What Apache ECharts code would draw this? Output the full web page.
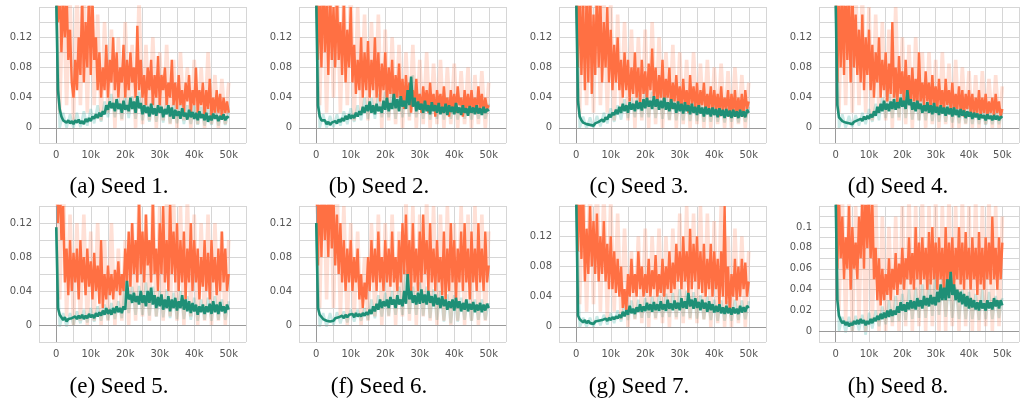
<!DOCTYPE html>
<html>
<head>
<meta charset="utf-8">
<script src="https://cdn.jsdelivr.net/npm/echarts@6/dist/echarts.min.js"></script>
<style>
html, body { margin: 0; padding: 0; background: #fff; }
#chart { width: 1022px; height: 402px; }
</style>
</head>
<body>
<div id="chart"></div>
<script>
// training steps of the smoothed curves and of the faded raw curves
var steps = [0,500,1000,1500,2000,2500,3000,3500,4000,4500,
	5000,5500,6000,6500,7000,7500,8000,8500,9000,9500,
	10000,10500,11000,11500,12000,12500,13000,13500,14000,14500,
	15000,15500,16000,16500,17000,17500,18000,18500,19000,19500,
	20000,20500,21000,21500,22000,22500,23000,23500,24000,24500,
	25000,25500,26000,26500,27000,27500,28000,28500,29000,29500,
	30000,30500,31000,31500,32000,32500,33000,33500,34000,34500,
	35000,35500,36000,36500,37000,37500,38000,38500,39000,39500,
	40000,40500,41000,41500,42000,42500,43000,43500,44000,44500,
	45000,45500,46000,46500,47000,47500,48000,48500,49000,49500,
	50000];
var rawSteps = [0,1000,2000,3000,4000,5000,6000,7000,8000,9000,
	10000,11000,12000,13000,14000,15000,16000,17000,18000,19000,
	20000,21000,22000,23000,24000,25000,26000,27000,28000,29000,
	30000,31000,32000,33000,34000,35000,36000,37000,38000,39000,
	40000,41000,42000,43000,44000,45000,46000,47000,48000,49000,
	50000];

var captions = ['(a) Seed 1.', '(b) Seed 2.', '(c) Seed 3.', '(d) Seed 4.',
	'(e) Seed 5.', '(f) Seed 6.', '(g) Seed 7.', '(h) Seed 8.'];
var yMins = [-0.02, -0.02, -0.02, -0.02, -0.02, -0.02, -0.02, -0.01];
var yMaxs = [0.16, 0.16, 0.16, 0.16, 0.14, 0.14, 0.16, 0.12];
var yIntervals = [0.02, 0.02, 0.02, 0.02, 0.02, 0.02, 0.02, 0.01];
var yLabelSteps = [0.04, 0.04, 0.04, 0.04, 0.04, 0.04, 0.04, 0.02];

// seed 1
var seed1Orange = [0.20,0.14,0.19,0.10,0.17,0.12,0.18,0.09,0.13,0.06,
	0.04,0.09,0.05,0.12,0.07,0.18,0.06,0.14,0.08,0.19,
	0.07,0.17,0.09,0.12,0.05,0.10,0.04,0.08,0.05,0.11,
	0.04,0.09,0.06,0.12,0.05,0.10,0.04,0.08,0.06,0.11,
	0.04,0.09,0.05,0.10,0.06,0.08,0.04,0.135,0.05,0.09,
	0.04,0.07,0.03,0.08,0.05,0.09,0.03,0.07,0.04,0.095,
	0.03,0.07,0.05,0.08,0.03,0.06,0.04,0.09,0.03,0.06,
	0.025,0.07,0.03,0.05,0.02,0.06,0.035,0.07,0.02,0.05,
	0.03,0.08,0.02,0.05,0.03,0.06,0.015,0.05,0.025,0.065,
	0.015,0.04,0.02,0.05,0.02,0.045,0.015,0.04,0.02,0.035,
	0.02];
var seed1Green = [0.17,0.05,0.025,0.015,0.01,0.012,0.007,0.01,0.006,0.009,
	0.005,0.01,0.007,0.011,0.006,0.009,0.005,0.012,0.008,0.013,
	0.009,0.015,0.012,0.018,0.013,0.02,0.015,0.022,0.018,0.03,
	0.024,0.035,0.026,0.033,0.022,0.038,0.025,0.032,0.02,0.036,
	0.024,0.03,0.022,0.04,0.025,0.035,0.02,0.042,0.026,0.033,
	0.018,0.03,0.02,0.028,0.015,0.032,0.018,0.026,0.016,0.03,
	0.02,0.028,0.014,0.025,0.018,0.03,0.015,0.027,0.012,0.024,
	0.016,0.022,0.012,0.026,0.015,0.02,0.011,0.024,0.014,0.021,
	0.012,0.02,0.01,0.022,0.013,0.018,0.01,0.02,0.008,0.016,
	0.01,0.019,0.012,0.017,0.009,0.016,0.011,0.018,0.01,0.015,
	0.013];
var seed1OrangeRaw = [0.2,0.02,0.19,0.03,0.17,0.01,0.18,0.03,0.2,0.02,
	0.19,0.03,0.15,0.01,0.14,0.02,0.13,0.0,0.12,0.01,
	0.14,0.02,0.11,0.0,0.17,0.005,0.11,0.01,0.12,0.0,
	0.1,0.01,0.11,0.005,0.09,0.0,0.1,0.01,0.08,0.0,
	0.09,0.005,0.08,0.0,0.1,0.005,0.07,0.0,0.065,0.005,
	0.06];
var seed1GreenRaw = [0.17,0.0,0.02,0.0,0.018,0.0,0.02,0.001,0.022,0.003,
	0.025,0.006,0.03,0.008,0.035,0.014,0.045,0.014,0.04,0.012,
	0.045,0.013,0.042,0.012,0.048,0.01,0.038,0.008,0.04,0.008,
	0.036,0.007,0.038,0.006,0.034,0.006,0.032,0.005,0.03,0.005,
	0.03,0.004,0.028,0.003,0.026,0.004,0.028,0.003,0.025,0.004,
	0.022];

// seed 2
var seed2Orange = [0.2,0.09,0.18,0.08,0.2,0.1,0.17,0.07,0.19,0.09,
	0.16,0.08,0.18,0.09,0.14,0.07,0.17,0.06,0.13,0.08,
	0.16,0.06,0.11,0.045,0.09,0.05,0.12,0.04,0.1,0.05,
	0.115,0.04,0.09,0.05,0.12,0.04,0.1,0.035,0.085,0.05,
	0.1,0.03,0.08,0.045,0.09,0.03,0.07,0.04,0.085,0.03,
	0.065,0.025,0.07,0.035,0.06,0.02,0.05,0.03,0.065,0.025,
	0.045,0.02,0.055,0.03,0.05,0.02,0.06,0.025,0.045,0.015,
	0.05,0.03,0.045,0.02,0.055,0.025,0.04,0.015,0.05,0.025,
	0.045,0.02,0.055,0.03,0.04,0.015,0.05,0.025,0.045,0.02,
	0.05,0.025,0.04,0.02,0.055,0.025,0.045,0.02,0.04,0.025,
	0.03];
var seed2Green = [0.17,0.03,0.015,0.01,0.008,0.01,0.005,0.008,0.004,0.007,
	0.005,0.009,0.006,0.011,0.008,0.013,0.009,0.016,0.011,0.018,
	0.012,0.017,0.013,0.02,0.015,0.022,0.017,0.028,0.02,0.03,
	0.022,0.035,0.02,0.03,0.018,0.032,0.022,0.028,0.02,0.036,
	0.024,0.04,0.022,0.033,0.025,0.045,0.026,0.038,0.022,0.042,
	0.028,0.036,0.025,0.05,0.03,0.068,0.028,0.04,0.022,0.035,
	0.024,0.032,0.02,0.036,0.022,0.03,0.018,0.034,0.022,0.03,
	0.02,0.033,0.018,0.028,0.02,0.032,0.017,0.03,0.021,0.028,
	0.018,0.033,0.02,0.027,0.017,0.03,0.02,0.026,0.016,0.029,
	0.02,0.027,0.018,0.03,0.019,0.026,0.017,0.028,0.02,0.025,
	0.022];
var seed2OrangeRaw = [0.2,0.03,0.2,0.02,0.19,0.04,0.2,0.02,0.18,0.03,
	0.19,0.01,0.16,0.02,0.15,0.01,0.14,0.02,0.15,0.0,
	0.13,0.01,0.12,0.005,0.11,0.0,0.1,0.01,0.11,0.0,
	0.09,0.005,0.1,0.0,0.085,0.005,0.09,0.0,0.08,0.005,
	0.085,0.0,0.075,0.005,0.08,0.0,0.07,0.005,0.075,0.0,
	0.06];
var seed2GreenRaw = [0.17,0.0,0.018,0.0,0.016,0.001,0.018,0.003,0.022,0.005,
	0.026,0.008,0.03,0.01,0.04,0.012,0.04,0.012,0.045,0.014,
	0.048,0.014,0.05,0.012,0.055,0.014,0.06,0.015,0.07,0.014,
	0.045,0.012,0.045,0.011,0.044,0.012,0.042,0.011,0.04,0.012,
	0.042,0.011,0.04,0.012,0.038,0.011,0.04,0.012,0.036,0.012,
	0.032];

// seed 3
var seed3Orange = [0.2,0.08,0.19,0.07,0.17,0.05,0.18,0.06,0.2,0.045,
	0.15,0.07,0.19,0.08,0.17,0.06,0.14,0.08,0.16,0.06,
	0.13,0.05,0.11,0.06,0.12,0.05,0.09,0.04,0.1,0.05,
	0.09,0.035,0.08,0.045,0.1,0.04,0.08,0.03,0.09,0.045,
	0.075,0.035,0.085,0.05,0.105,0.04,0.08,0.03,0.07,0.04,
	0.09,0.03,0.065,0.04,0.08,0.025,0.06,0.035,0.07,0.03,
	0.055,0.025,0.065,0.03,0.05,0.02,0.07,0.03,0.055,0.025,
	0.06,0.02,0.05,0.03,0.06,0.02,0.045,0.025,0.055,0.02,
	0.05,0.025,0.045,0.015,0.055,0.02,0.04,0.025,0.05,0.015,
	0.045,0.02,0.05,0.015,0.04,0.02,0.045,0.015,0.05,0.025,
	0.035];
var seed3Green = [0.17,0.035,0.015,0.01,0.007,0.009,0.005,0.007,0.004,0.006,
	0.003,0.006,0.004,0.008,0.006,0.011,0.008,0.014,0.011,0.018,
	0.014,0.02,0.017,0.024,0.018,0.028,0.02,0.032,0.022,0.03,
	0.02,0.034,0.024,0.032,0.022,0.036,0.025,0.034,0.023,0.038,
	0.026,0.04,0.028,0.036,0.025,0.042,0.028,0.038,0.024,0.036,
	0.026,0.04,0.024,0.034,0.022,0.038,0.025,0.033,0.02,0.035,
	0.022,0.032,0.019,0.034,0.022,0.03,0.018,0.032,0.02,0.028,
	0.017,0.03,0.019,0.027,0.015,0.028,0.018,0.026,0.015,0.027,
	0.017,0.025,0.014,0.026,0.016,0.024,0.013,0.025,0.015,0.023,
	0.013,0.024,0.015,0.022,0.013,0.024,0.015,0.022,0.014,0.024,
	0.02];
var seed3OrangeRaw = [0.2,0.02,0.2,0.03,0.19,0.02,0.2,0.03,0.18,0.02,
	0.17,0.01,0.15,0.02,0.14,0.01,0.13,0.0,0.12,0.01,
	0.13,0.0,0.14,0.005,0.12,0.0,0.1,0.01,0.11,0.0,
	0.1,0.005,0.09,0.0,0.1,0.005,0.085,0.0,0.09,0.0,
	0.08,0.005,0.085,0.0,0.075,0.0,0.08,0.005,0.07,0.0,
	0.06];
var seed3GreenRaw = [0.17,0.0,0.015,-0.001,0.014,0.0,0.016,0.002,0.02,0.006,
	0.026,0.008,0.03,0.011,0.038,0.013,0.04,0.014,0.045,0.014,
	0.05,0.014,0.048,0.013,0.046,0.012,0.045,0.011,0.044,0.01,
	0.042,0.01,0.04,0.009,0.04,0.009,0.036,0.008,0.035,0.008,
	0.034,0.008,0.032,0.007,0.033,0.008,0.03,0.007,0.03,0.008,
	0.028];

// seed 4
var seed4Orange = [0.2,0.06,0.19,0.08,0.18,0.07,0.2,0.09,0.17,0.06,
	0.19,0.08,0.15,0.07,0.13,0.06,0.15,0.05,0.12,0.07,
	0.13,0.05,0.11,0.04,0.1,0.06,0.12,0.04,0.09,0.05,
	0.1,0.035,0.085,0.045,0.14,0.04,0.08,0.03,0.095,0.045,
	0.075,0.03,0.09,0.04,0.07,0.03,0.08,0.035,0.065,0.025,
	0.1,0.035,0.06,0.03,0.075,0.035,0.06,0.025,0.07,0.03,
	0.055,0.025,0.065,0.03,0.05,0.02,0.065,0.03,0.05,0.025,
	0.06,0.02,0.045,0.025,0.055,0.02,0.05,0.015,0.045,0.025,
	0.05,0.02,0.045,0.015,0.04,0.02,0.05,0.015,0.04,0.02,
	0.045,0.015,0.035,0.02,0.04,0.015,0.045,0.02,0.035,0.015,
	0.025];
var seed4Green = [0.17,0.03,0.014,0.012,0.009,0.011,0.007,0.009,0.006,0.008,
	0.005,0.008,0.007,0.01,0.008,0.012,0.009,0.015,0.011,0.016,
	0.012,0.018,0.014,0.022,0.016,0.028,0.02,0.032,0.022,0.036,
	0.024,0.032,0.022,0.035,0.025,0.038,0.024,0.034,0.026,0.04,
	0.028,0.036,0.025,0.05,0.03,0.038,0.024,0.034,0.022,0.036,
	0.025,0.032,0.02,0.03,0.022,0.034,0.02,0.03,0.018,0.033,
	0.02,0.028,0.017,0.03,0.019,0.027,0.016,0.028,0.018,0.026,
	0.015,0.027,0.017,0.024,0.014,0.025,0.016,0.023,0.013,0.022,
	0.015,0.021,0.012,0.02,0.014,0.019,0.011,0.018,0.013,0.017,
	0.01,0.018,0.012,0.016,0.01,0.017,0.011,0.016,0.01,0.015,
	0.013];
var seed4OrangeRaw = [0.2,0.02,0.2,0.03,0.2,0.02,0.19,0.03,0.18,0.02,
	0.16,0.01,0.15,0.02,0.14,0.01,0.13,0.0,0.16,0.01,
	0.12,0.005,0.11,0.0,0.12,0.01,0.1,0.0,0.1,0.005,
	0.09,0.0,0.1,0.005,0.085,0.0,0.09,0.0,0.08,0.005,
	0.075,0.0,0.07,0.0,0.075,0.005,0.065,0.0,0.07,0.0,
	0.055];
var seed4GreenRaw = [0.17,0.0,0.018,0.0,0.016,0.001,0.017,0.003,0.02,0.005,
	0.025,0.008,0.032,0.01,0.04,0.013,0.045,0.013,0.048,0.014,
	0.055,0.013,0.048,0.011,0.044,0.01,0.04,0.01,0.042,0.009,
	0.038,0.008,0.036,0.008,0.035,0.007,0.033,0.006,0.03,0.006,
	0.03,0.005,0.028,0.005,0.026,0.004,0.025,0.005,0.024,0.005,
	0.022];

// seed 5
var seed5Orange = [0.2,0.12,0.18,0.1,0.14,0.05,0.09,0.035,0.1,0.04,
	0.085,0.05,0.09,0.03,0.1,0.05,0.08,0.035,0.09,0.045,
	0.075,0.03,0.085,0.04,0.07,0.025,0.1,0.02,0.06,0.03,
	0.07,0.035,0.06,0.03,0.065,0.04,0.075,0.035,0.06,0.04,
	0.09,0.05,0.11,0.045,0.12,0.06,0.1,0.05,0.15,0.06,
	0.11,0.05,0.13,0.07,0.1,0.05,0.15,0.06,0.09,0.04,
	0.12,0.06,0.14,0.05,0.1,0.04,0.15,0.06,0.11,0.05,
	0.12,0.04,0.1,0.05,0.11,0.03,0.09,0.05,0.12,0.04,
	0.1,0.05,0.09,0.03,0.08,0.045,0.1,0.04,0.085,0.03,
	0.1,0.05,0.08,0.035,0.09,0.04,0.11,0.05,0.09,0.04,
	0.06];
var seed5Green = [0.115,0.02,0.012,0.01,0.006,0.009,0.004,0.007,0.005,0.008,
	0.006,0.01,0.007,0.011,0.008,0.012,0.007,0.011,0.008,0.013,
	0.009,0.012,0.008,0.014,0.01,0.015,0.011,0.017,0.012,0.02,
	0.013,0.018,0.012,0.02,0.014,0.022,0.015,0.02,0.014,0.022,
	0.018,0.052,0.03,0.036,0.026,0.038,0.027,0.034,0.024,0.04,
	0.026,0.035,0.022,0.04,0.026,0.044,0.024,0.035,0.02,0.033,
	0.022,0.036,0.018,0.03,0.02,0.034,0.016,0.03,0.02,0.032,
	0.017,0.028,0.02,0.035,0.018,0.03,0.016,0.028,0.014,0.026,
	0.016,0.024,0.012,0.022,0.015,0.024,0.013,0.022,0.015,0.025,
	0.013,0.028,0.015,0.024,0.013,0.027,0.016,0.022,0.014,0.024,
	0.018];
var seed5OrangeRaw = [0.2,0.03,0.18,0.01,0.13,0.0,0.12,0.005,0.13,0.0,
	0.11,0.005,0.12,0.0,0.1,0.005,0.12,0.0,0.09,0.005,
	0.1,0.0,0.12,0.005,0.15,0.01,0.13,0.005,0.15,0.01,
	0.14,0.005,0.15,0.01,0.15,0.005,0.14,0.0,0.15,0.01,
	0.13,0.0,0.12,0.005,0.13,0.0,0.12,0.005,0.11,0.0,
	0.1];
var seed5GreenRaw = [0.115,-0.002,0.014,-0.002,0.014,0.0,0.016,0.002,0.018,0.003,
	0.02,0.004,0.022,0.005,0.024,0.006,0.026,0.007,0.028,0.008,
	0.05,0.014,0.045,0.012,0.046,0.012,0.05,0.011,0.045,0.01,
	0.04,0.009,0.042,0.008,0.038,0.007,0.04,0.007,0.034,0.006,
	0.032,0.005,0.03,0.006,0.032,0.005,0.034,0.006,0.03,0.006,
	0.028];

// seed 6
var seed6Orange = [0.2,0.07,0.18,0.08,0.17,0.1,0.16,0.08,0.18,0.09,
	0.15,0.07,0.13,0.06,0.12,0.05,0.1,0.04,0.09,0.05,
	0.1,0.04,0.08,0.05,0.09,0.03,0.06,0.02,0.05,0.03,
	0.08,0.04,0.1,0.05,0.09,0.04,0.11,0.05,0.08,0.04,
	0.1,0.05,0.09,0.045,0.11,0.05,0.08,0.04,0.1,0.05,
	0.12,0.06,0.13,0.05,0.1,0.04,0.12,0.05,0.09,0.04,
	0.11,0.05,0.13,0.06,0.1,0.04,0.12,0.05,0.09,0.04,
	0.1,0.05,0.08,0.035,0.11,0.03,0.09,0.04,0.12,0.05,
	0.1,0.03,0.09,0.05,0.11,0.04,0.12,0.05,0.09,0.03,
	0.11,0.05,0.09,0.04,0.12,0.05,0.09,0.04,0.11,0.05,
	0.07];
var seed6Green = [0.12,0.02,0.012,0.01,0.007,0.009,0.005,0.007,0.004,0.006,
	0.005,0.008,0.006,0.009,0.007,0.011,0.008,0.012,0.009,0.012,
	0.01,0.013,0.009,0.014,0.01,0.013,0.01,0.014,0.011,0.015,
	0.012,0.018,0.013,0.022,0.016,0.025,0.018,0.03,0.02,0.028,
	0.022,0.03,0.02,0.033,0.024,0.03,0.02,0.035,0.024,0.03,
	0.022,0.04,0.025,0.06,0.03,0.04,0.026,0.035,0.024,0.038,
	0.025,0.042,0.026,0.036,0.024,0.04,0.026,0.034,0.022,0.036,
	0.024,0.032,0.02,0.034,0.022,0.03,0.018,0.028,0.02,0.03,
	0.017,0.032,0.02,0.028,0.016,0.026,0.018,0.03,0.016,0.025,
	0.018,0.027,0.015,0.024,0.017,0.026,0.015,0.024,0.017,0.025,
	0.02];
var seed6OrangeRaw = [0.2,0.02,0.2,0.03,0.2,0.02,0.17,0.01,0.14,0.0,
	0.12,0.01,0.11,0.0,0.08,0.005,0.12,0.01,0.13,0.0,
	0.12,0.01,0.13,0.0,0.11,0.01,0.15,0.005,0.14,0.0,
	0.13,0.01,0.15,0.005,0.14,0.0,0.13,0.005,0.14,0.0,
	0.12,0.005,0.14,0.0,0.13,0.005,0.14,0.0,0.13,0.005,
	0.11];
var seed6GreenRaw = [0.12,-0.002,0.014,-0.002,0.014,0.0,0.015,0.002,0.016,0.003,
	0.018,0.004,0.018,0.005,0.02,0.006,0.03,0.008,0.035,0.01,
	0.038,0.011,0.04,0.012,0.045,0.012,0.065,0.013,0.045,0.012,
	0.05,0.011,0.045,0.008,0.042,0.006,0.04,0.004,0.036,0.002,
	0.035,0.004,0.032,0.006,0.03,0.005,0.03,0.006,0.03,0.006,
	0.026];

// seed 7
var seed7Orange = [0.2,0.1,0.2,0.09,0.18,0.06,0.13,0.07,0.16,0.08,
	0.14,0.07,0.15,0.06,0.12,0.07,0.14,0.06,0.11,0.05,
	0.12,0.05,0.1,0.045,0.09,0.04,0.08,0.025,0.05,0.02,
	0.07,0.04,0.09,0.045,0.07,0.04,0.1,0.05,0.08,0.04,
	0.07,0.045,0.09,0.04,0.075,0.05,0.095,0.04,0.07,0.045,
	0.09,0.04,0.08,0.05,0.1,0.045,0.085,0.05,0.11,0.06,
	0.1,0.05,0.12,0.06,0.1,0.045,0.13,0.05,0.11,0.06,
	0.12,0.05,0.1,0.045,0.11,0.04,0.09,0.05,0.11,0.04,
	0.1,0.05,0.09,0.03,0.1,0.04,0.16,0.03,0.08,0.02,
	0.07,0.04,0.09,0.035,0.08,0.04,0.09,0.05,0.085,0.04,
	0.06];
var seed7Green = [0.17,0.015,0.01,0.008,0.006,0.009,0.005,0.008,0.005,0.007,
	0.004,0.007,0.005,0.008,0.006,0.009,0.007,0.011,0.008,0.012,
	0.009,0.013,0.01,0.014,0.011,0.016,0.012,0.02,0.014,0.022,
	0.016,0.028,0.018,0.024,0.017,0.026,0.02,0.03,0.02,0.027,
	0.021,0.032,0.022,0.03,0.02,0.033,0.022,0.03,0.021,0.034,
	0.023,0.03,0.021,0.036,0.024,0.031,0.022,0.035,0.024,0.032,
	0.022,0.038,0.025,0.034,0.024,0.045,0.027,0.036,0.024,0.038,
	0.025,0.033,0.022,0.036,0.024,0.032,0.02,0.034,0.022,0.03,
	0.019,0.028,0.02,0.03,0.018,0.026,0.017,0.028,0.018,0.025,
	0.016,0.026,0.018,0.024,0.017,0.028,0.019,0.026,0.02,0.028,
	0.025];
var seed7OrangeRaw = [0.2,0.03,0.2,0.02,0.19,0.03,0.2,0.02,0.18,0.01,
	0.17,0.02,0.15,0.01,0.13,0.0,0.1,0.01,0.12,0.005,
	0.13,0.0,0.12,0.01,0.13,0.005,0.12,0.0,0.13,0.01,
	0.15,0.005,0.16,0.01,0.15,0.005,0.16,0.01,0.15,0.0,
	0.14,0.005,0.16,0.0,0.12,0.0,0.13,0.005,0.12,0.0,
	0.1];
var seed7GreenRaw = [0.17,-0.001,0.012,0.0,0.012,0.0,0.014,0.002,0.016,0.003,
	0.018,0.005,0.022,0.007,0.032,0.009,0.035,0.011,0.036,0.012,
	0.038,0.012,0.04,0.012,0.042,0.013,0.044,0.013,0.045,0.013,
	0.05,0.014,0.048,0.012,0.046,0.011,0.042,0.01,0.04,0.009,
	0.036,0.008,0.035,0.008,0.034,0.008,0.036,0.009,0.035,0.01,
	0.034];

// seed 8
var seed8Orange = [0.2,0.06,0.13,0.07,0.11,0.05,0.09,0.06,0.12,0.04,
	0.1,0.06,0.085,0.05,0.11,0.07,0.13,0.06,0.14,0.08,
	0.13,0.07,0.125,0.05,0.08,0.03,0.07,0.025,0.06,0.03,
	0.055,0.035,0.07,0.03,0.06,0.04,0.075,0.035,0.065,0.045,
	0.08,0.04,0.07,0.05,0.09,0.045,0.075,0.04,0.1,0.05,
	0.085,0.045,0.09,0.05,0.08,0.04,0.095,0.045,0.1,0.05,
	0.085,0.04,0.09,0.05,0.08,0.035,0.1,0.045,0.085,0.05,
	0.09,0.04,0.08,0.05,0.1,0.045,0.085,0.04,0.095,0.05,
	0.08,0.04,0.09,0.05,0.08,0.035,0.095,0.045,0.08,0.04,
	0.09,0.05,0.085,0.045,0.11,0.05,0.08,0.04,0.09,0.05,
	0.085];
var seed8Green = [0.13,0.03,0.015,0.011,0.008,0.01,0.006,0.009,0.005,0.008,
	0.006,0.01,0.007,0.011,0.007,0.012,0.008,0.011,0.006,0.01,
	0.007,0.012,0.008,0.013,0.01,0.015,0.011,0.017,0.012,0.018,
	0.013,0.02,0.014,0.021,0.015,0.02,0.016,0.024,0.018,0.028,
	0.02,0.026,0.019,0.028,0.021,0.03,0.022,0.029,0.021,0.032,
	0.024,0.03,0.022,0.034,0.025,0.032,0.024,0.035,0.026,0.033,
	0.025,0.038,0.028,0.045,0.03,0.042,0.03,0.05,0.032,0.057,
	0.035,0.045,0.03,0.04,0.028,0.038,0.026,0.036,0.024,0.034,
	0.022,0.032,0.023,0.03,0.021,0.028,0.02,0.03,0.022,0.027,
	0.02,0.03,0.022,0.028,0.021,0.032,0.024,0.03,0.022,0.03,
	0.025];
var seed8OrangeRaw = [0.2,0.02,0.13,0.01,0.13,0.0,0.12,0.01,0.13,0.0,
	0.13,0.01,0.13,0.0,0.11,0.0,0.1,0.005,0.11,0.0,
	0.12,0.005,0.13,0.0,0.12,0.005,0.13,0.0,0.12,0.005,
	0.13,0.0,0.12,0.0,0.13,0.005,0.12,0.0,0.13,0.005,
	0.12,0.0,0.13,0.0,0.12,0.005,0.13,0.0,0.12,0.005,
	0.11];
var seed8GreenRaw = [0.13,0.0,0.014,-0.001,0.014,0.0,0.015,0.001,0.016,-0.003,
	0.018,0.003,0.02,0.005,0.024,0.007,0.03,0.009,0.034,0.01,
	0.036,0.011,0.04,0.012,0.042,0.013,0.045,0.013,0.05,0.015,
	0.06,0.016,0.05,0.014,0.046,0.013,0.042,0.012,0.04,0.012,
	0.038,0.012,0.036,0.011,0.04,0.012,0.038,0.012,0.034,0.013,
	0.032];

var orangeSets = [seed1Orange, seed2Orange, seed3Orange, seed4Orange, seed5Orange, seed6Orange, seed7Orange, seed8Orange];
var greenSets = [seed1Green, seed2Green, seed3Green, seed4Green, seed5Green, seed6Green, seed7Green, seed8Green];
var orangeRawSets = [seed1OrangeRaw, seed2OrangeRaw, seed3OrangeRaw, seed4OrangeRaw, seed5OrangeRaw, seed6OrangeRaw, seed7OrangeRaw, seed8OrangeRaw];
var greenRawSets = [seed1GreenRaw, seed2GreenRaw, seed3GreenRaw, seed4GreenRaw, seed5GreenRaw, seed6GreenRaw, seed7GreenRaw, seed8GreenRaw];

var ORANGE = '#ff7043';
var GREEN = '#1f8f76';
var GRID_COLOR = '#d6d6d6';
var TEXT_COLOR = '#555';

function pairs(xs, ys) {
	return ys.map(function(v, k) { return [xs[k], v]; });
}

var grids = [], xAxes = [], yAxes = [], series = [], titles = [];

for (var i = 0; i < 8; i++) {
	var col = i % 4, row = Math.floor(i / 4);
	grids.push({
		left: 39 + 260 * col,
		top: row === 0 ? 7 : 206,
		width: 207,
		height: 136
	});
	xAxes.push({
		gridIndex: i,
		type: 'value',
		min: -5000,
		max: 55000,
		interval: 5000,
		axisLine: { show: false },
		axisTick: { show: true, length: 4, lineStyle: { color: GRID_COLOR } },
		splitLine: { show: true, lineStyle: { color: GRID_COLOR, width: 1 } },
		axisLabel: {
			color: TEXT_COLOR,
			fontFamily: 'DejaVu Sans',
			fontSize: 10,
			margin: 7,
			formatter: function(v) {
				if (v < 0 || v > 50000 || v % 10000 !== 0) return '';
				return v === 0 ? '0' : (v / 1000) + 'k';
			}
		}
	});
	(function(idx) {
		yAxes.push({
			gridIndex: idx,
			type: 'value',
			min: yMins[idx],
			max: yMaxs[idx],
			interval: yIntervals[idx],
			axisLine: { show: false },
			axisTick: { show: true, length: 4, lineStyle: { color: GRID_COLOR } },
			splitLine: { show: true, lineStyle: { color: GRID_COLOR, width: 1 } },
			axisLabel: {
				color: TEXT_COLOR,
				fontFamily: 'DejaVu Sans',
				fontSize: 10,
				margin: 7,
				formatter: function(v) {
					var k = v / yLabelSteps[idx];
					if (v < -1e-9) return '';
					if (Math.abs(v - yMaxs[idx]) < 1e-9) return '';
					if (Math.abs(k - Math.round(k)) > 1e-6) return '';
					return String(Math.round(v * 100) / 100);
				}
			}
		});
	})(i);

	// faded raw curves (green under orange)
	series.push({
		type: 'line',
		xAxisIndex: i, yAxisIndex: i,
		data: pairs(rawSteps, greenRawSets[i]),
		showSymbol: false, symbol: 'none', silent: true,
		lineStyle: { color: '#4db6ac', width: 2.6, opacity: 0.3 },
		z: 2,
		markLine: {
			silent: true,
			symbol: 'none',
			label: { show: false },
			lineStyle: { color: '#9a9a9a', width: 1, type: 'solid' },
			data: [{ xAxis: 0 }, { yAxis: 0 }]
		}
	});
	series.push({
		type: 'line',
		xAxisIndex: i, yAxisIndex: i,
		data: pairs(rawSteps, orangeRawSets[i]),
		showSymbol: false, symbol: 'none', silent: true,
		lineStyle: { color: ORANGE, width: 3.6, opacity: 0.22 },
		z: 3
	});
	// smoothed curves
	series.push({
		type: 'line',
		xAxisIndex: i, yAxisIndex: i,
		data: pairs(steps, orangeSets[i]),
		showSymbol: false, symbol: 'none', silent: true,
		lineStyle: { color: ORANGE, width: 2.4 },
		z: 4
	});
	series.push({
		type: 'line',
		xAxisIndex: i, yAxisIndex: i,
		data: pairs(steps, greenSets[i]),
		showSymbol: false, symbol: 'none', silent: true,
		lineStyle: { color: GREEN, width: 2.6 },
		z: 5
	});

	titles.push({
		text: captions[i],
		left: [119, 379, 639, 898][col],
		top: row === 0 ? 175 : 375,
		textAlign: 'center',
		padding: 0,
		textStyle: {
			fontFamily: 'Liberation Serif',
			fontSize: 23,
			fontWeight: 'normal',
			color: '#000'
		}
	});
}

var chart = echarts.init(document.getElementById('chart'));
chart.setOption({
	animation: false,
	backgroundColor: '#fff',
	title: titles,
	grid: grids,
	xAxis: xAxes,
	yAxis: yAxes,
	series: series
});
</script>
</body>
</html>
